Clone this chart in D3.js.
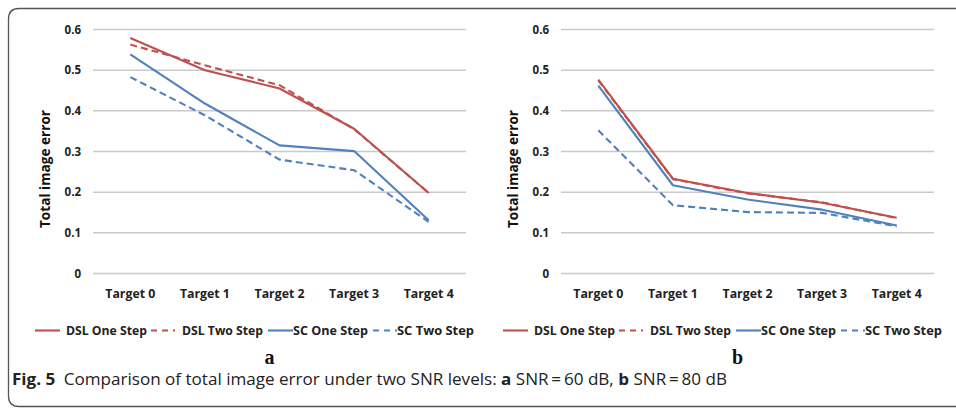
<!DOCTYPE html>
<html>
<head>
<meta charset="utf-8">
<script src="https://cdn.jsdelivr.net/npm/d3@7/dist/d3.min.js"></script>
<style>
  html, body { margin: 0; padding: 0; background: #fff; }
  svg { display: block; }
</style>
</head>
<body>
<svg id="fig" width="956" height="411"></svg>
<script>
// Categories and tick values
const categories = ["Target 0", "Target 1", "Target 2", "Target 3", "Target 4"];
const yTicks = [0, 0.1, 0.2, 0.3, 0.4, 0.5, 0.6];
const seriesNames = ["DSL One Step", "DSL Two Step", "SC One Step", "SC Two Step"];

// Total image error, SNR = 60 dB (panel a)
const snr60DslOne = [0.579, 0.500, 0.455, 0.356, 0.198];
const snr60DslTwo = [0.563, 0.512, 0.463, 0.355, 0.198];
const snr60ScOne  = [0.539, 0.418, 0.315, 0.301, 0.131];
const snr60ScTwo  = [0.483, 0.389, 0.280, 0.254, 0.127];

// Total image error, SNR = 80 dB (panel b)
const snr80DslOne = [0.477, 0.233, 0.198, 0.174, 0.137];
const snr80DslTwo = [0.475, 0.232, 0.197, 0.175, 0.136];
const snr80ScOne  = [0.462, 0.217, 0.182, 0.157, 0.118];
const snr80ScTwo  = [0.352, 0.168, 0.151, 0.149, 0.116];

const panelLabels = ["a", "b"];

const RED = "#c0504d", BLUE = "#4f81bd";
const styles = [
  { color: RED,  dash: null },
  { color: RED,  dash: "7,4" },
  { color: BLUE, dash: null },
  { color: BLUE, dash: "7,4" }
];

const svg = d3.select("#fig");
const FONT = "'Open Sans', 'Noto Sans', sans-serif";

// Outer rounded frame (right side runs past the page edge)
svg.append("path")
  .attr("d", "M 975 8.5 L 19 8.5 Q 8.5 8.5 8.5 19 L 8.5 396 Q 8.5 406.5 19 406.5 L 975 406.5")
  .attr("fill", "none")
  .attr("stroke", "#555")
  .attr("stroke-width", 1.3);

function drawPanel(offsetX, series, label) {
  const g = svg.append("g").attr("transform", `translate(${offsetX},0)`);
  const x = d3.scaleBand().domain(categories).range([93, 466]);
  const y = d3.scaleLinear().domain([0, 0.6]).range([273.5, 29.5]);

  // gridlines
  g.append("g").selectAll("line").data(yTicks).join("line")
    .attr("x1", 93).attr("x2", 466)
    .attr("y1", d => y(d)).attr("y2", d => y(d))
    .attr("stroke", "#c9c9c9").attr("stroke-width", 1.5);

  // y axis labels
  const yAxis = g.append("g").attr("transform", "translate(93,0)")
    .call(d3.axisLeft(y).tickValues(yTicks).tickSize(0).tickPadding(12)
      .tickFormat(d => d === 0 ? "0" : d3.format(".1f")(d)));
  yAxis.select(".domain").remove();
  yAxis.selectAll("text")
    .attr("font-family", FONT).attr("font-weight", "bold")
    .attr("font-size", 11.5).attr("fill", "#222");

  // x axis labels
  const xAxis = g.append("g").attr("transform", "translate(0,273.5)")
    .call(d3.axisBottom(x).tickSize(0).tickPadding(16));
  xAxis.select(".domain").remove();
  xAxis.selectAll("text")
    .attr("font-family", FONT).attr("font-weight", "bold")
    .attr("font-size", 12.5).attr("fill", "#222")
    .attr("textLength", 50).attr("lengthAdjust", "spacingAndGlyphs");

  // y title
  g.append("text")
    .attr("transform", "translate(50,169) rotate(-90)")
    .attr("text-anchor", "middle")
    .attr("font-family", FONT).attr("font-weight", "bold")
    .attr("font-size", 14.5).attr("fill", "#111")
    .attr("textLength", 118).attr("lengthAdjust", "spacingAndGlyphs")
    .text("Total image error");

  // series lines
  const line = d3.line()
    .x((d, i) => x(categories[i]) + x.bandwidth() / 2)
    .y(d => y(d));
  series.forEach((vals, k) => {
    g.append("path")
      .datum(vals)
      .attr("d", line)
      .attr("fill", "none")
      .attr("stroke", styles[k].color)
      .attr("stroke-width", 2.1)
      .attr("stroke-dasharray", styles[k].dash)
      .attr("stroke-linejoin", "round");
  });

  // legend
  const legendLayout = [
    { x1: 35,  x2: 60,  tx: 66,  tw: 81 },
    { x1: 151, x2: 175, tx: 182, tw: 81 },
    { x1: 268, x2: 293, tx: 293, tw: 75 },
    { x1: 373, x2: 397, tx: 397, tw: 77 }
  ];
  const ly = 330.5;
  const leg = g.append("g");
  seriesNames.forEach((name, k) => {
    const p = legendLayout[k];
    leg.append("line")
      .attr("x1", p.x1).attr("x2", p.x2).attr("y1", ly).attr("y2", ly)
      .attr("stroke", styles[k].color).attr("stroke-width", 2.1)
      .attr("stroke-dasharray", styles[k].dash ? "6,5" : null);
    leg.append("text")
      .attr("x", p.tx).attr("y", ly + 4.5)
      .attr("font-family", FONT).attr("font-weight", "bold")
      .attr("font-size", 12).attr("fill", "#222")
      .attr("textLength", p.tw).attr("lengthAdjust", "spacingAndGlyphs")
      .text(name);
  });

  // panel letter
  g.append("text")
    .attr("x", x.range()[0] + (x.range()[1] - x.range()[0]) / 2 - 10)
    .attr("y", 364)
    .attr("text-anchor", "middle")
    .attr("font-family", "'Liberation Serif', 'DejaVu Serif', serif")
    .attr("font-weight", "bold").attr("font-size", 20).attr("fill", "#111")
    .text(label);
}

drawPanel(0, [snr60DslOne, snr60DslTwo, snr60ScOne, snr60ScTwo], panelLabels[0]);
drawPanel(468, [snr80DslOne, snr80DslTwo, snr80ScOne, snr80ScTwo], panelLabels[1]);

// caption
const cap = svg.append("text")
  .attr("x", 12).attr("y", 385)
  .attr("font-family", "'Open Sans', 'Noto Sans', sans-serif")
  .attr("font-size", 16).attr("fill", "#222")
  .attr("textLength", 715).attr("lengthAdjust", "spacingAndGlyphs");
cap.append("tspan").attr("font-weight", "bold").text("Fig. 5");
cap.append("tspan").text("\u2002Comparison of total image error under two SNR levels: ");
cap.append("tspan").attr("font-weight", "bold").text("a");
cap.append("tspan").text(" SNR\u2009=\u200960 dB, ");
cap.append("tspan").attr("font-weight", "bold").text("b");
cap.append("tspan").text(" SNR\u2009=\u200980 dB");
</script>
</body>
</html>
